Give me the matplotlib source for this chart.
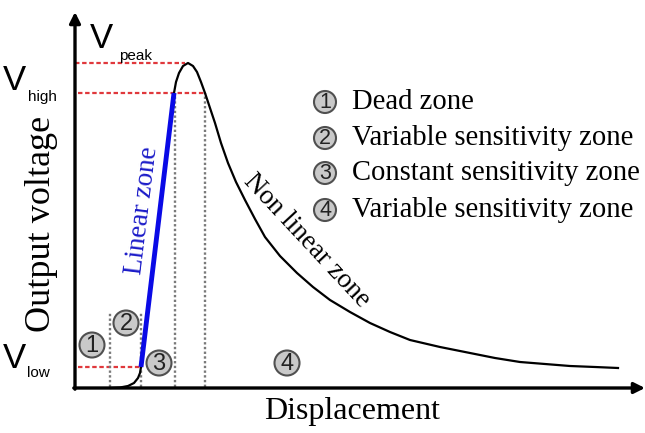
import matplotlib
matplotlib.use("Agg")
import matplotlib.pyplot as plt
from matplotlib.patches import Circle

SERIF = "Liberation Serif"
SANS = "Liberation Sans"

# Characteristic levels (arbitrary voltage units)
v_low = 21
v_high = 295
v_peak = 325

# Zone boundaries along the displacement axis
zone_edges = [35, 66, 100, 130]
zone_edge_tops = [75, 75, 295, 295]

# Dead-zone toe of the response
toe_disp = [35, 45, 53, 59, 63, 65, 66]
toe_volt = [0, 0.5, 2, 5, 10, 15, 21]

# Linear (constant sensitivity) segment
lin_disp = [66, 99]
lin_volt = [21, 295]

# Peak and non-linear decay
decay_disp = [99, 101, 104, 108, 113, 118, 122, 126, 130, 135, 140, 146, 153,
              161, 170, 180, 190, 205, 222, 238, 255, 275, 295, 315, 335, 365,
              395, 420, 445, 470, 495, 520, 543]
decay_volt = [295, 306, 315, 322, 325, 322, 316, 306, 295, 280, 265, 245, 225,
              206, 188, 169, 151, 132, 115, 101, 88, 76, 65, 56, 48, 41,
              35, 30, 26, 24, 22, 21, 20]

# Zone badges placed inside the plot
badge_labels = ["1", "2", "3", "4"]
badge_x = [17, 51, 84, 212]
badge_y = [43, 65, 25, 25]

# Legend entries
legend_labels = ["Dead zone", "Variable sensitivity zone",
                 "Constant sensitivity zone", "Variable sensitivity zone"]
legend_y = [286, 250, 215, 178]

fig = plt.figure(figsize=(6.45, 4.33), dpi=100)
ax = fig.add_axes([0, 0, 1, 1])
ax.set_xlim(-75, 570)
ax.set_ylim(-45, 388)
ax.axis("off")

# Axes with arrow heads
arrow = dict(arrowstyle="-|>", lw=2.4, color="black", mutation_scale=16,
             shrinkA=0, shrinkB=0)
ax.annotate("", xy=(0, 376), xytext=(0, -1.2), arrowprops=arrow)
ax.annotate("", xy=(570, 0), xytext=(-1.2, 0), arrowprops=arrow)

# Reference levels
red = "#e0383c"
dash = (0, (2.0, 1.2))
ax.plot([0, 110], [v_peak, v_peak], color=red, lw=1.6, ls=dash)
ax.plot([3, zone_edges[3]], [v_high, v_high], color=red, lw=1.6, ls=dash)
ax.plot([3, zone_edges[1]], [v_low, v_low], color=red, lw=1.6, ls=dash)

# Zone boundaries
for xe, top in zip(zone_edges, zone_edge_tops):
    ax.plot([xe, xe], [1.5, top], color="#7a7a7a", lw=1.7, ls=(0, (1, 1)))

# Response curve
ax.plot(toe_disp, toe_volt, color="black", lw=1.6, solid_capstyle="round")
ax.plot(decay_disp, decay_volt, color="black", lw=1.6, solid_joinstyle="round")
ax.plot(lin_disp, lin_volt, color="#0a0ae6", lw=3.5, solid_capstyle="butt")

# Zone annotations along the curve
ax.text(67, 178, "Linear zone", color="#1a1ac8", family=SERIF, fontsize=19.5,
        rotation=83, ha="center", va="center", rotation_mode="anchor")
ax.text(232, 147, "Non linear zone", color="black", family=SERIF, fontsize=19.5,
        rotation=-47, ha="center", va="center", rotation_mode="anchor")

# Voltage level labels
ax.text(26, 350, "V", family=SANS, fontsize=25, ha="center", va="center")
ax.text(44, 332, "peak", family=SANS, fontsize=11, ha="left", va="center")
ax.text(-61, 308, "V", family=SANS, fontsize=25, ha="center", va="center")
ax.text(-47, 291, "high", family=SANS, fontsize=11, ha="left", va="center")
ax.text(-61, 29, "V", family=SANS, fontsize=25, ha="center", va="center")
ax.text(-48, 15, "low", family=SANS, fontsize=11, ha="left", va="center")

# Axis titles
ax.text(-33, 164, "Output voltage", family=SERIF, fontsize=26, rotation=90,
        ha="center", va="center")
ax.text(277, -24, "Displacement", family=SERIF, fontsize=23,
        ha="center", va="center")


def badge(x, y, label, r, fs):
    ax.add_patch(Circle((x, y), r, facecolor="#c9c9c9", edgecolor="#505050",
                        lw=1.5, zorder=5))
    ax.text(x, y - 0.5, label, family=SANS, fontsize=fs, ha="center",
            va="center", color="#222222", zorder=6)


for lab, bx, by in zip(badge_labels, badge_x, badge_y):
    badge(bx, by, lab, 12.5, 17)

for lab, text, ly in zip(badge_labels, legend_labels, legend_y):
    badge(250, ly, lab, 11, 15.5)
    ax.text(277, ly, text, family=SERIF, fontsize=20.6, ha="left", va="center")

fig.savefig("out.png", dpi=100)
